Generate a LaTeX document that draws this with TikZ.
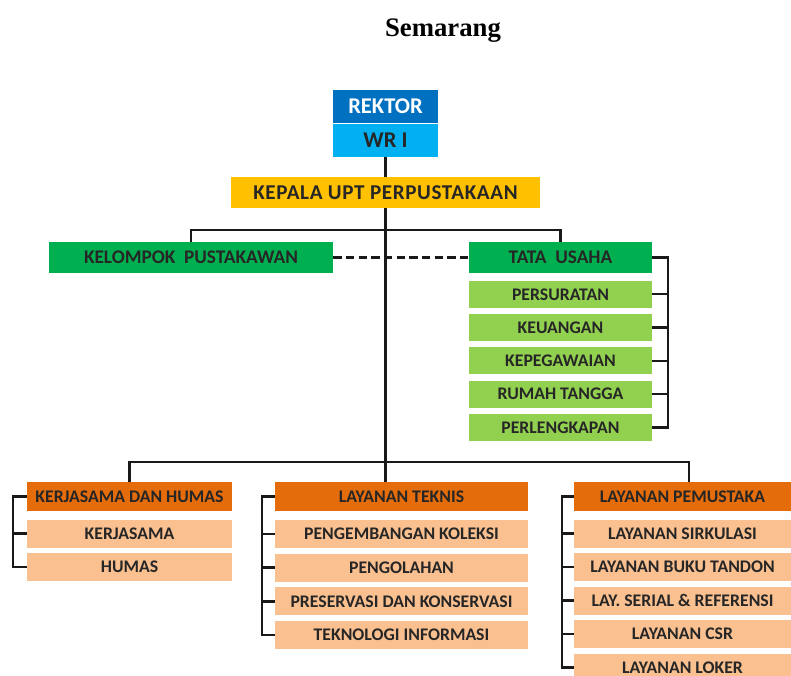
\documentclass[tikz,border=0pt]{standalone}
\usepackage{fontspec}
\setmainfont{Carlito}
\newfontfamily\titlefont{Liberation Serif}
\usepackage{xcolor}
\usetikzlibrary{positioning}
\definecolor{rektorblue}{HTML}{0070C0}
\definecolor{wrblue}{HTML}{00B0F0}
\definecolor{kepalagold}{HTML}{FFC000}
\definecolor{tugreen}{HTML}{00B050}
\definecolor{sublgreen}{HTML}{92D050}
\definecolor{headorange}{HTML}{E46C0A}
\definecolor{suborange}{HTML}{FAC090}
\newcommand{\pxu}{0.025cm}
\tikzset{
  box/.style={inner sep=0pt, font=\bfseries\fontsize{12.6}{14}\selectfont, text=black!85},
  bigbox/.style={box, font=\bfseries\fontsize{#1}{18}\selectfont},
  gbox/.style={bigbox=13.7, fill=tugreen, minimum width=#1*\pxu, minimum height=31*\pxu},
  gsub/.style={box, fill=sublgreen, minimum width=183*\pxu, minimum height=27*\pxu},
  ohead/.style={box, fill=headorange, minimum width=#1*\pxu, minimum height=29*\pxu},
  osub/.style={box, fill=suborange, minimum width=#1*\pxu, minimum height=28*\pxu},
  conn/.style={line width=1.6pt, black!90}
}

\begin{document}
\begin{tikzpicture}[x=\pxu, y=-\pxu]
        \useasboundingbox (0,0) rectangle (791,676);
        \clip (0,0) rectangle (791,676);
        \node[anchor=base, font=\titlefont\bfseries\fontsize{19}{22}\selectfont] (title) at (443,37) {Semarang};
        \node[bigbox=16, fill=rektorblue, text=white, minimum width=105*\pxu, minimum height=33*\pxu] (rektor) at (385.5,106.5) {REKTOR};
        \node[bigbox=16, fill=wrblue, minimum width=105*\pxu, minimum height=33*\pxu, below=0pt of rektor] (wr) {WR I};
        \node[box, font=\bfseries\fontsize{15}{18}\selectfont\addfontfeature{LetterSpace=3}, fill=kepalagold, minimum width=309*\pxu, minimum height=31*\pxu] (kepala) at (385.5,192.5) {KEPALA UPT PERPUSTAKAAN};
        \node[gbox=284] (kelompok) at (191,257.5) {KELOMPOK \ PUSTAKAWAN};
        \node[gbox=183] (tata) at (560.5,257.5) {TATA \ USAHA};
        \foreach \t [count=\i] in {PERSURATAN, KEUANGAN, KEPEGAWAIAN, RUMAH TANGGA, PERLENGKAPAN}
          \node[gsub] (tu\i) at (560.5,{261+33.3*\i}) {\t};
        \node[ohead=205] (kh) at (129.5,496.5) {KERJASAMA DAN HUMAS};
        \node[ohead=253] (lt) at (401.5,496.5) {LAYANAN TEKNIS};
        \node[ohead=217] (lp) at (682.5,496.5) {LAYANAN PEMUSTAKA};
        \foreach \t [count=\i] in {KERJASAMA, HUMAS}
          \node[osub=205] (kh\i) at (129.5,{500+33.5*\i}) {\t};
        \foreach \t [count=\i] in {PENGEMBANGAN KOLEKSI, PENGOLAHAN, PRESERVASI DAN KONSERVASI, TEKNOLOGI INFORMASI}
          \node[osub=253] (lt\i) at (401.5,{500+33.8*\i}) {\t};
        \foreach \t [count=\i] in {LAYANAN SIRKULASI, LAYANAN BUKU TANDON, LAY. SERIAL \& REFERENSI, LAYANAN CSR, LAYANAN LOKER}
          \node[osub=217] (lp\i) at (682.5,{500+33.5*\i}) {\t};
        \coordinate (topbar) at (386,230);
        \coordinate (botbar) at (386,462);
        \draw[conn] (wr) -- (kepala);
        \draw[conn] (kepala.south) -- (kepala.south |- lt.north);
        \draw[conn] (kelompok.north) |- (topbar) -| (tata.north);
        \draw[conn, dash pattern=on 6pt off 3pt] (kelompok) -- (tata);
        \draw[conn] (tata.east) -- ++(16,0) |- (tu5.east);
        \foreach \i in {1,...,4}
          \draw[conn] (tu\i.east) -- ++(16,0);
        \draw[conn] (kh.north) |- (botbar) -| ([xshift=6.5*\pxu]lp.north);
        \draw[conn] (kh.west) -- ++(-14,0) |- (kh2.west);
        \draw[conn] (kh1.west) -- ++(-14,0);
        \draw[conn] (lt.west) -- ++(-13,0) |- (lt4.west);
        \foreach \i in {1,...,3}
          \draw[conn] (lt\i.west) -- ++(-13,0);
        \draw[conn] (lp.west) -- ++(-12,0) |- (lp5.west);
        \foreach \i in {1,...,4}
          \draw[conn] (lp\i.west) -- ++(-12,0);
    \end{tikzpicture}
\end{document}
